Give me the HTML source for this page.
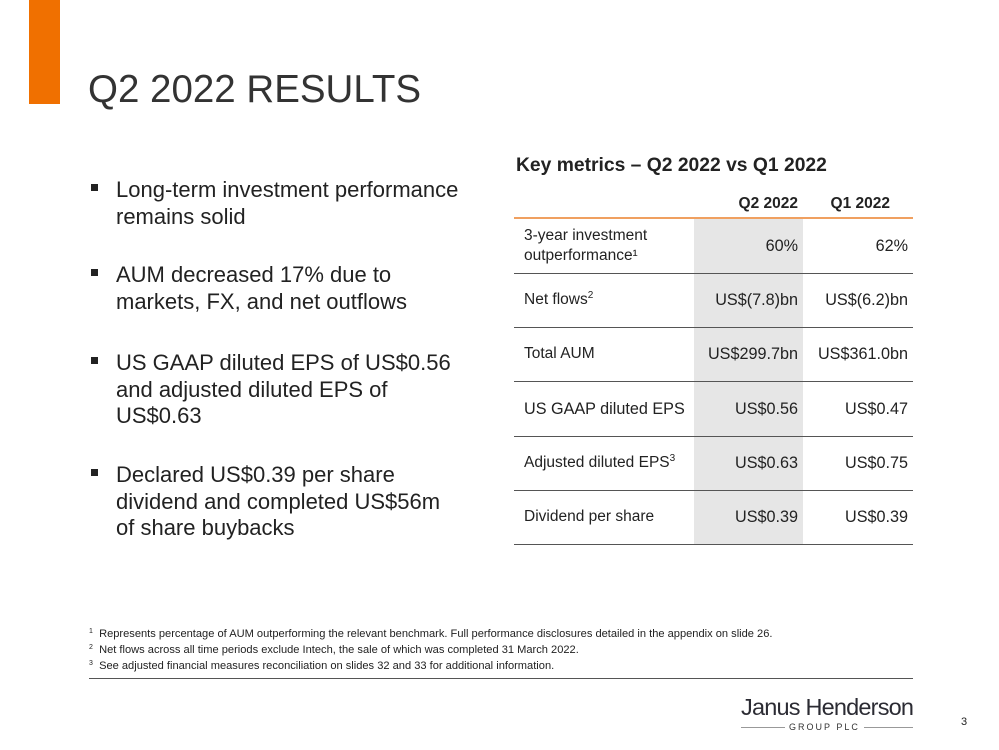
<!DOCTYPE html>
<html><head><meta charset="utf-8"><style>
body{margin:0;width:999px;height:750px;position:relative;background:#fff;font-family:"Liberation Sans",Arial,sans-serif;color:#222;overflow:hidden}
.a{position:absolute}
.bul{position:absolute;left:91px;width:7px;height:7px;background:#222}
.bt{position:absolute;left:116px;font-size:22px;line-height:26.5px;color:#222;white-space:nowrap}
.row{position:absolute;left:514px;width:399px;height:54px;border-bottom:1px solid #555;font-size:16.2px}
.row .l{position:absolute;left:10px;top:0;height:54px;display:flex;align-items:center;line-height:20px;font-size:15.5px}
.row .q2{position:absolute;right:115px;top:0;height:54px;display:flex;align-items:center}
.row .q1{position:absolute;right:5px;top:0;height:54px;display:flex;align-items:center}
sup{font-size:10px;vertical-align:6px;line-height:0}
.fn{position:absolute;left:89px;font-size:11.1px;color:#222;white-space:nowrap}
</style></head><body>
<div class="a" style="left:29px;top:0;width:31px;height:104px;background:#f07000"></div>
<div class="a" style="left:88px;top:68px;font-size:38.5px;color:#333">Q2 2022 RESULTS</div>

<div>
<div class="bul" style="top:184px"></div><div class="bt" style="top:177px">Long-term investment performance<br>remains solid</div>
<div class="bul" style="top:269px"></div><div class="bt" style="top:262px">AUM decreased 17% due to<br>markets, FX, and net outflows</div>
<div class="bul" style="top:357px"></div><div class="bt" style="top:350px">US GAAP diluted EPS of US$0.56<br>and adjusted diluted EPS of<br>US$0.63</div>
<div class="bul" style="top:469px"></div><div class="bt" style="top:462px">Declared US$0.39 per share<br>dividend and completed US$56m<br>of share buybacks</div>
</div>

<div class="a" style="left:516px;top:155px;font-size:19.3px;font-weight:bold;white-space:nowrap">Key metrics – Q2 2022 vs Q1 2022</div>
<div class="a" style="left:694px;top:219px;width:109px;height:325px;background:#e6e6e6"></div>
<div class="a" style="left:694px;top:195px;width:104px;text-align:right;font-size:15.5px;font-weight:bold">Q2 2022</div>
<div class="a" style="left:803px;top:195px;width:87px;text-align:right;font-size:15.5px;font-weight:bold">Q1 2022</div>
<div class="a" style="left:514px;top:217px;width:399px;height:2px;background:#f0a060"></div>

<div class="row" style="top:219px"><div class="l"><span>3-year investment<br>outperformance¹</span></div><div class="q2">60%</div><div class="q1">62%</div></div>
<div class="row" style="top:273px"><div class="l"><span>Net flows<sup>2</sup></span></div><div class="q2">US$(7.8)bn</div><div class="q1">US$(6.2)bn</div></div>
<div class="row" style="top:327px"><div class="l"><span>Total AUM</span></div><div class="q2">US$299.7bn</div><div class="q1">US$361.0bn</div></div>
<div class="row" style="top:382px"><div class="l"><span style="font-size:16.2px">US GAAP diluted EPS</span></div><div class="q2">US$0.56</div><div class="q1">US$0.47</div></div>
<div class="row" style="top:436px"><div class="l"><span>Adjusted diluted EPS<sup>3</sup></span></div><div class="q2">US$0.63</div><div class="q1">US$0.75</div></div>
<div class="row" style="top:490px"><div class="l"><span>Dividend per share</span></div><div class="q2">US$0.39</div><div class="q1">US$0.39</div></div>

<div class="fn" style="top:628px"><sup style="font-size:7px;vertical-align:4px">1</sup>&nbsp; Represents percentage of AUM outperforming the relevant benchmark. Full performance disclosures detailed in the appendix on slide 26.</div>
<div class="fn" style="top:644px"><sup style="font-size:7px;vertical-align:4px">2</sup>&nbsp; Net flows across all time periods exclude Intech, the sale of which was completed 31 March 2022.</div>
<div class="fn" style="top:660px"><sup style="font-size:7px;vertical-align:4px">3</sup>&nbsp; See adjusted financial measures reconciliation on slides 32 and 33 for additional information.</div>
<div class="a" style="left:89px;top:678px;width:824px;height:1px;background:#555"></div>

<div class="a" style="left:741px;top:694px;width:172px">
<div style="font-size:23.5px;color:#2b2b33;letter-spacing:-0.8px;line-height:26px;white-space:nowrap">Janus Henderson</div>
<div style="position:relative;height:12px;margin-top:1px">
<div style="position:absolute;left:0;top:6px;width:172px;height:1px;background:#999"></div>
<div style="position:absolute;left:44px;top:0;background:#fff;padding:0 4px;font-size:9px;letter-spacing:2px;color:#333;line-height:12px;white-space:nowrap">GROUP PLC</div>
</div></div>
<div class="a" style="left:961px;top:716px;font-size:11px">3</div>
</body></html>
